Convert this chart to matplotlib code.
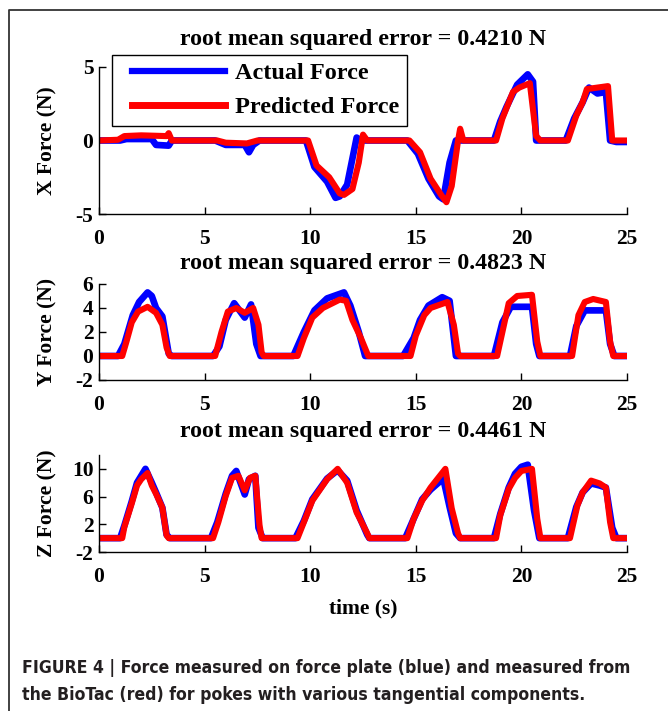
import matplotlib
matplotlib.use('Agg')
import matplotlib.pyplot as plt
from matplotlib.lines import Line2D
from matplotlib.legend_handler import HandlerLine2D
from matplotlib import font_manager

plt.rcParams['axes.unicode_minus'] = False

# ---------------- data ----------------
time_ticks = [0, 5, 10, 15, 20, 25]

titles = ["root mean squared error = 0.4210 N",
          "root mean squared error = 0.4823 N",
          "root mean squared error = 0.4461 N"]
ylabels = ["X Force (N)", "Y Force (N)", "Z Force (N)"]
y_ticks = [[-5, 0, 5], [-2, 0, 2, 4, 6], [-2, 2, 6, 10]]
y_limits = [(-5, 5), (-2, 6), (-2, 12)]

# X force
x_actual_t = [0, 1.0, 1.3, 2.5, 2.7, 3.3, 3.45, 5.5, 6.0, 6.9, 7.1, 7.3, 7.6, 9.8, 10.2, 10.8,
              11.2, 11.4, 11.75, 12.2, 12.4, 14.6, 15.1, 15.6, 16.1, 16.3, 16.6, 16.9, 17.0,
              18.7, 19.0, 19.3, 19.8, 20.3, 20.55, 20.7, 22.1, 22.5, 22.9, 23.2, 23.6, 24.0,
              24.2, 24.5, 25]
x_actual_v = [0, 0, 0.1, 0.1, -0.3, -0.35, 0.0, 0.0, -0.3, -0.3, -0.8, -0.3, 0.0, 0.0, -1.8, -2.8,
              -3.9, -3.8, -3.0, 0.2, 0.0, 0.0, -0.9, -2.6, -3.8, -4.0, -1.5, 0.0, 0.0,
              0.0, 1.3, 2.3, 3.8, 4.5, 4.0, 0.0, 0.0, 1.5, 2.6, 3.6, 3.2, 3.3,
              0.0, -0.1, -0.1]
x_pred_t = [0, 0.9, 1.2, 2.0, 3.2, 3.3, 3.45, 5.6, 6.0, 7.0, 7.5, 9.9, 10.3, 10.9, 11.4, 11.6,
            12.0, 12.3, 12.5, 12.7, 14.7, 15.2, 15.7, 16.2, 16.45, 16.7, 17.0, 17.1, 17.25,
            18.8, 19.1, 19.6, 19.9, 20.4, 20.7, 20.9, 22.2, 22.6, 22.9, 23.1, 24.1, 24.3, 25]
x_pred_v = [0, 0.05, 0.3, 0.35, 0.3, 0.5, 0.0, 0.0, -0.15, -0.2, 0.0, 0.0, -1.7, -2.5, -3.6, -3.7,
            -3.3, -1.5, 0.4, 0.0, 0.0, -0.8, -2.6, -3.7, -4.2, -3.1, 0.0, 0.8, 0.0,
            0.0, 1.5, 3.3, 3.6, 3.9, 0.3, 0.0, 0.0, 1.7, 2.6, 3.5, 3.7, 0.0, 0.0]

# Y force
y_actual_t = [0, 0.9, 1.2, 1.6, 1.9, 2.3, 2.5, 2.7, 3.0, 3.3, 3.45, 5.4, 5.7, 6.0, 6.4, 6.9, 7.2,
              7.45, 7.65, 9.2, 9.7, 10.2, 10.8, 11.6, 11.9, 12.3, 12.6, 14.4, 14.9, 15.2, 15.6,
              16.25, 16.6, 16.9, 18.7, 19.1, 19.5, 20.5, 20.7, 20.85, 22.3, 22.6, 23.0, 24.0,
              24.2, 24.4, 25]
y_actual_v = [0, 0, 1.0, 3.4, 4.5, 5.3, 5.0, 4.0, 3.3, 0.2, 0, 0, 0.8, 3.0, 4.4, 3.2, 4.3,
              1.0, 0, 0, 2.0, 3.8, 4.8, 5.3, 4.2, 2.0, 0, 0, 1.5, 3.0, 4.2,
              4.9, 4.6, 0, 0, 2.8, 4.1, 4.1, 1.0, 0, 0, 2.5, 3.8, 3.8,
              1.0, 0, 0]
y_pred_t = [0, 1.1, 1.3, 1.55, 1.85, 2.3, 2.7, 3.0, 3.2, 3.35, 5.5, 5.8, 6.1, 6.5, 6.9, 7.3, 7.55,
            7.7, 7.8, 9.4, 9.7, 10.1, 10.6, 11.4, 11.7, 12.0, 12.4, 12.75, 14.75, 15.0, 15.4,
            15.7, 16.5, 16.8, 17.0, 17.1, 18.85, 19.1, 19.4, 19.8, 20.5, 20.75, 20.9, 22.4,
            22.7, 23.0, 23.4, 24.0, 24.2, 24.35, 25]
y_pred_v = [0, 0, 1.2, 2.8, 3.7, 4.1, 3.6, 2.6, 0.7, 0, 0, 2.0, 3.7, 4.0, 3.6, 4.0, 2.6,
            0.3, 0, 0, 1.5, 3.2, 4.0, 4.7, 4.6, 3.0, 1.5, 0, 0, 1.7, 3.4,
            4.0, 4.5, 2.6, 0.2, 0, 0, 2.0, 4.4, 5.0, 5.1, 1.2, 0, 0,
            3.4, 4.5, 4.75, 4.5, 1.2, 0, 0]

# Z force
z_actual_t = [0, 1.0, 1.2, 1.55, 1.8, 2.0, 2.2, 2.5, 2.7, 3.0, 3.2, 3.35, 5.3, 5.6, 6.0, 6.3, 6.5,
              6.9, 7.1, 7.4, 7.55, 7.75, 9.3, 9.7, 10.1, 10.8, 11.3, 11.75, 12.2, 12.7, 12.8,
              14.5, 14.9, 15.3, 15.7, 16.3, 16.6, 16.9, 17.1, 18.7, 19.0, 19.4, 19.7, 20.0,
              20.3, 20.6, 20.85, 22.2, 22.6, 22.9, 23.3, 23.7, 24.0, 24.3, 24.5, 25]
z_actual_v = [0, 0, 1.8, 5.3, 8.0, 9.0, 10.0, 8.0, 6.6, 4.4, 0.5, 0, 0, 2.3, 6.4, 9.0, 9.7,
              6.3, 8.5, 9.0, 1.5, 0, 0, 2.5, 5.6, 8.6, 9.8, 8.3, 4.0, 0.5, 0,
              0, 2.8, 5.6, 7.0, 8.6, 4.5, 0.7, 0, 0, 3.5, 7.3, 9.3, 10.3,
              10.6, 4.0, 0, 0, 4.5, 6.6, 7.9, 7.6, 7.3, 1.5, 0, 0]
z_pred_t = [0, 1.1, 1.2, 1.55, 1.8, 2.0, 2.3, 2.5, 2.7, 3.0, 3.2, 3.3, 5.4, 5.65, 6.0, 6.3, 6.6,
            6.9, 7.15, 7.4, 7.6, 7.7, 9.4, 9.7, 10.1, 10.8, 11.3, 11.75, 12.2, 12.7, 12.8,
            14.6, 14.9, 15.3, 15.7, 16.4, 16.7, 17.0, 17.1, 18.8, 19.0, 19.4, 19.7, 20.0,
            20.5, 20.75, 20.9, 22.3, 22.65, 22.9, 23.3, 23.7, 24.0, 24.2, 24.35, 25]
z_pred_v = [0, 0, 1.6, 5.0, 7.6, 8.5, 9.4, 7.6, 6.4, 4.4, 0.4, 0, 0, 2.3, 6.1, 8.7, 9.0,
            6.9, 8.7, 9.0, 1.9, 0, 0, 2.3, 5.4, 8.5, 10.0, 8.0, 3.7, 0.7, 0,
            0, 2.8, 5.4, 7.3, 10.0, 4.3, 0.7, 0, 0, 3.3, 7.1, 8.7, 9.7,
            10.0, 2.8, 0, 0, 4.7, 6.6, 8.3, 7.9, 7.3, 2.3, 0, 0]

legend_labels = ["Actual Force", "Predicted Force"]
caption_lines = ["FIGURE 4 | Force measured on force plate (blue) and measured from",
                 "the BioTac (red) for pokes with various tangential components."]

# ---------------- layout ----------------
W, H = 668, 711
fig = plt.figure(figsize=(W / 100, H / 100), dpi=100)
SERIF = ['Liberation Serif', 'DejaVu Serif']
BLUE, RED = '#0000ff', '#ff0000'

def rect(l, t, r, b):
    return [l / W, 1 - b / H, (r - l) / W, (b - t) / H]

boxes = [rect(99, 67, 627, 214), rect(99, 284, 627, 380), rect(99, 455, 627, 552)]
title_y = [40, 263, 432]
series = [(x_actual_t, x_actual_v, x_pred_t, x_pred_v),
          (y_actual_t, y_actual_v, y_pred_t, y_pred_v),
          (z_actual_t, z_actual_v, z_pred_t, z_pred_v)]

axes = []
for i in range(3):
    ax = fig.add_axes(boxes[i])
    at, av, pt, pv = series[i]
    ax.plot(at, av, color=BLUE, lw=4.8, solid_joinstyle='round', solid_capstyle='round')
    ax.plot(pt, pv, color=RED, lw=4.4, solid_joinstyle='round', solid_capstyle='round')
    ax.set_xlim(0, 25)
    ax.set_ylim(*y_limits[i])
    ax.set_xticks(time_ticks)
    ax.set_yticks(y_ticks[i])
    ax.spines['top'].set_visible(False)
    ax.spines['right'].set_visible(False)
    for s in ('left', 'bottom'):
        ax.spines[s].set_linewidth(1.0)
    ax.tick_params(direction='in', length=5, width=1.0, labelsize=15.5, pad=4)
    ax.tick_params(axis='x', pad=11)
    for lab in ax.get_xticklabels() + ax.get_yticklabels():
        lab.set_fontfamily(SERIF)
        lab.set_fontweight('bold')
    ax.set_ylabel(ylabels[i], fontsize=15.5, fontweight='bold', family=SERIF)
    ax.yaxis.set_label_coords(-0.078, 0.5)
    fig.text(363 / W, 1 - title_y[i] / H, titles[i], ha='center', va='center',
             fontsize=17.2, fontweight='bold', family=SERIF)
    axes.append(ax)

axes[2].set_xlabel("time (s)", fontsize=15.5, fontweight='bold', family=SERIF, labelpad=8)

h_act = Line2D([], [], color=BLUE, lw=4.5)
h_pred = Line2D([], [], color=RED, lw=5.0)
leg = fig.legend([h_act, h_pred], legend_labels, loc='upper left',
                 bbox_to_anchor=(112 / W, 1 - 55 / H), borderaxespad=0,
                 prop={'family': SERIF, 'weight': 'bold', 'size': 17.5},
                 handler_map={Line2D: HandlerLine2D(xpad=0.53)},
                 handlelength=4.36, handletextpad=0.41, labelspacing=0.5,
                 borderpad=0.3, fancybox=False, framealpha=1, edgecolor='black')
leg.get_frame().set_linewidth(1.0)

# caption font: prefer a condensed sans face
cap_font = None
for f in font_manager.fontManager.ttflist:
    if f.name == 'Liberation Sans Narrow' and f.weight in (700, 'bold'):
        cap_font = dict(family='Liberation Sans Narrow')
        break
if cap_font is None:
    for f in font_manager.fontManager.ttflist:
        if f.name == 'DejaVu Sans' and f.stretch == 'condensed' and f.weight in (700, 'bold'):
            cap_font = dict(family='DejaVu Sans', fontstretch='condensed')
            break
if cap_font is None:
    cap_font = dict(family='Liberation Sans')

cap_texts = []
for j, line in enumerate(caption_lines):
    cap_texts.append(fig.text(22 / W, 1 - (668 + 27 * j) / H, line, ha='left', va='center',
                              fontsize=13, fontweight='bold', color='#231f20', **cap_font))
fig.canvas.draw()
r = fig.canvas.get_renderer()
w0 = cap_texts[0].get_window_extent(r).width
scale = 610 / w0
for t in cap_texts:
    t.set_fontsize(13 * scale)

# outer frame
frame = Line2D([9 / W, 9 / W, 1.0], [0.0, 1 - 10 / H, 1 - 10 / H], transform=fig.transFigure,
               color='#333333', lw=1.3)
fig.add_artist(frame)

fig.savefig('out.png', dpi=100)
